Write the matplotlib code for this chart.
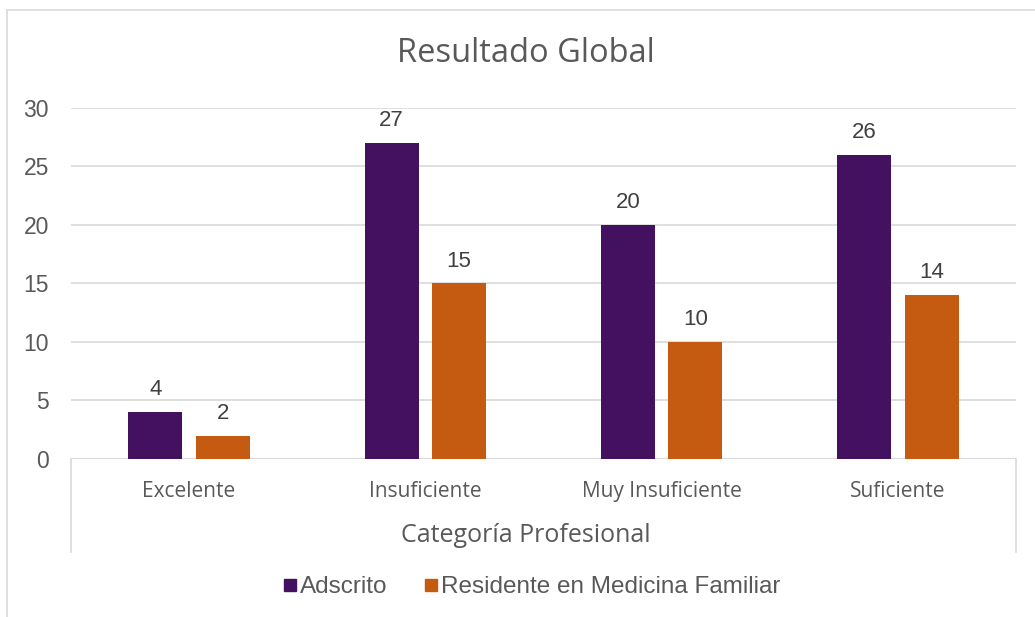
import numpy as np
import matplotlib.pyplot as plt
from matplotlib.lines import Line2D

categorias = ['Excelente', 'Insuficiente', 'Muy Insuficiente', 'Suficiente']
adscrito = [4, 27, 20, 26]
residente = [2, 15, 10, 14]
series = ['Adscrito', 'Residente en Medicina Familiar']
colores = ['#441060', '#C55A11']

gris = '#595959'
fig = plt.figure(figsize=(10.35, 6.17), dpi=100)
ax = fig.add_axes([0.0686, 0.2561, 0.9130, 0.5689])

x = np.arange(len(categorias))
ancho = 0.229
b1 = ax.bar(x - 0.143, adscrito, ancho, color=colores[0], zorder=3)
b2 = ax.bar(x + 0.143, residente, ancho, color=colores[1], zorder=3)

for barras in (b1, b2):
    for r in barras:
        ax.text(r.get_x() + r.get_width() / 2, r.get_height() + 1.0, str(int(r.get_height())),
                ha='center', va='bottom', fontsize=16, color='#404040', family='Liberation Sans')

ax.set_xlim(-0.5, 3.5)
ax.set_ylim(0, 30)
ax.set_yticks(range(0, 31, 5))
ax.yaxis.grid(True, color='#D9D9D9', lw=1.2, zorder=0)
for s in ax.spines.values():
    s.set_visible(False)
ax.axhline(0, color='#D9D9D9', lw=1.5, zorder=2)
ax.tick_params(axis='both', length=0)
ax.tick_params(axis='y', pad=16, labelsize=16.5, labelcolor=gris)
for t in ax.get_yticklabels():
    t.set_family('Liberation Sans')
ax.set_xticks(x)
ax.set_xticklabels(categorias, fontsize=15, color=gris, family='Open Sans')
ax.tick_params(axis='x', pad=16)

# lineas verticales de la categoria
for xa in (0, 1):
    ax.plot([xa, xa], [0, -0.265], transform=ax.transAxes, color='#D9D9D9', lw=1.2, clip_on=False)

fig.text(526 / 1035, 1 - 535 / 617, 'Categoría Profesional', ha='center', va='center',
         fontsize=18, color=gris, family='Open Sans')
fig.text(526 / 1035, 1 - 53 / 617, 'Resultado Global', ha='center', va='center',
         fontsize=23.5, color=gris, family='Open Sans')

handles = [Line2D([], [], marker='s', ls='', markersize=9, color=c) for c in colores]
fig.legend(handles, series, loc='center', bbox_to_anchor=(530 / 1035, 1 - 587 / 617), ncol=2,
           frameon=False, prop={'family': 'Liberation Sans', 'size': 17.5}, labelcolor=gris,
           handletextpad=0.0, columnspacing=1.4, handlelength=0.8)

# borde del grafico
fig.add_artist(Line2D([7 / 1035, 1], [1 - 10 / 617] * 2, color='#D9D9D9', lw=1.2))
fig.add_artist(Line2D([7 / 1035] * 2, [0, 1 - 10 / 617], color='#D9D9D9', lw=1.2))

fig.savefig('out.png', dpi=100)
